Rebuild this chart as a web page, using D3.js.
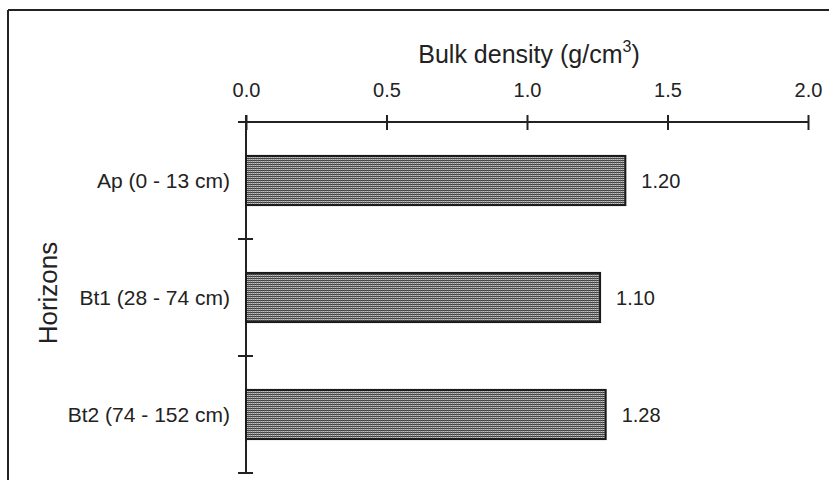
<!DOCTYPE html>
<html>
<head>
<meta charset="utf-8">
<script src="https://cdn.jsdelivr.net/npm/d3@7"></script>
<style>
  body { margin: 0; background: #fff; }
  svg text { font-family: "Liberation Sans", Arial, sans-serif; fill: #222; }
</style>
</head>
<body>
<div id="vis"></div>
<script>
const horizons = ["Ap (0 - 13 cm)", "Bt1 (28 - 74 cm)", "Bt2 (74 - 152 cm)"];
// bar lengths as drawn, and the numbers printed beside them
const barValues = [1.35, 1.26, 1.28];
const barLabels = ["1.20", "1.10", "1.28"];
const xTicks = [0, 0.5, 1.0, 1.5, 2.0];

const WIDTH = 829, HEIGHT = 480;
const MARG = {left: 246, right: 21, top: 122, bottom: 7};

const svg = d3.select("#vis").append("svg")
    .attr("width", WIDTH)
    .attr("height", HEIGHT);

// hatched fill for the bars
const defs = svg.append("defs");
const pat = defs.append("pattern")
    .attr("id", "hatch")
    .attr("patternUnits", "userSpaceOnUse")
    .attr("width", 2).attr("height", 2);
pat.append("rect").attr("width", 2).attr("height", 2).attr("fill", "#c4c4c4");
pat.append("rect").attr("width", 2).attr("height", 1).attr("fill", "#3c3c3c");
pat.append("rect").attr("width", 1).attr("height", 2).attr("fill", "#6a6a6a").attr("opacity", 0.5);

// frame (top and left edge only visible)
svg.append("line").attr("x1", 8).attr("x2", WIDTH).attr("y1", 10).attr("y2", 10)
    .attr("stroke", "#222").attr("stroke-width", 2);
svg.append("line").attr("x1", 8).attr("x2", 8).attr("y1", 10).attr("y2", HEIGHT)
    .attr("stroke", "#222").attr("stroke-width", 2);

const x = d3.scaleLinear().domain([0, 2]).range([MARG.left, 808]);
const y = d3.scaleBand().domain(horizons).range([MARG.top, 473])
    .paddingInner(0.58).paddingOuter(0.29);

// top axis
const xAxis = svg.append("g")
    .attr("transform", "translate(0," + MARG.top + ")")
    .call(d3.axisTop(x).tickValues(xTicks).tickFormat(d3.format(".1f"))
        .tickSizeOuter(0).tickSize(7).tickPadding(18));
xAxis.select(".domain").attr("stroke", "#222").attr("stroke-width", 2)
    .attr("d", "M" + (MARG.left - 8) + ",0H" + x(2));
xAxis.selectAll(".tick line").attr("y1", 8).attr("y2", -7)
    .attr("stroke", "#222").attr("stroke-width", 2);
xAxis.selectAll(".tick text").attr("font-size", 20).style("fill", "#222");

// left axis with ticks at the band edges
const edges = [0, 1, 2, 3].map(i => MARG.top + i * (473 - MARG.top) / 3);
svg.append("line").attr("x1", MARG.left).attr("x2", MARG.left)
    .attr("y1", MARG.top - 7).attr("y2", 473)
    .attr("stroke", "#222").attr("stroke-width", 2);
svg.selectAll(".ytick").data(edges.slice(1)).enter().append("line")
    .attr("x1", MARG.left - 8).attr("x2", MARG.left + 7)
    .attr("y1", d => d).attr("y2", d => d)
    .attr("stroke", "#222").attr("stroke-width", 2);

svg.selectAll(".cat").data(horizons).enter().append("text")
    .attr("x", 230)
    .attr("y", d => y(d) + y.bandwidth() / 2)
    .attr("dy", "0.35em")
    .attr("text-anchor", "end")
    .attr("font-size", 21)
    .text(d => d);

// bars
svg.selectAll(".bar").data(barValues).enter().append("rect")
    .attr("x", x(0))
    .attr("y", (d, i) => y(horizons[i]))
    .attr("width", d => x(d) - x(0))
    .attr("height", y.bandwidth())
    .attr("fill", "url(#hatch)")
    .attr("stroke", "#1a1a1a")
    .attr("stroke-width", 2);

svg.selectAll(".val").data(barValues).enter().append("text")
    .attr("x", d => x(d) + 16)
    .attr("y", (d, i) => y(horizons[i]) + y.bandwidth() / 2)
    .attr("dy", "0.35em")
    .attr("font-size", 20)
    .text((d, i) => barLabels[i]);

// titles
const title = svg.append("text")
    .attr("x", 529).attr("y", 63)
    .attr("text-anchor", "middle")
    .attr("font-size", 25);
title.append("tspan").text("Bulk density (g/cm");
title.append("tspan").attr("font-size", 16).attr("dy", -11).text("3");
title.append("tspan").attr("dy", 11).text(")");

svg.append("text")
    .attr("transform", "translate(57,293) rotate(-90)")
    .attr("text-anchor", "middle")
    .attr("font-size", 26)
    .text("Horizons");
</script>
</body>
</html>
